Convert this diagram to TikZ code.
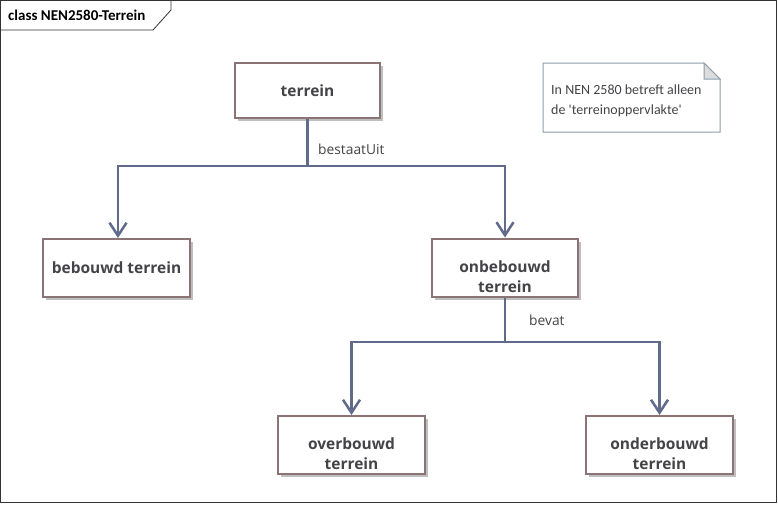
\documentclass[tikz,border=0pt]{standalone}
\usepackage{fontspec}
\setmainfont{Open Sans}
\newfontfamily\notefont{Carlito}
\usetikzlibrary{arrows.meta,shadows}
\definecolor{boxline}{RGB}{140,116,116}
\definecolor{conn}{RGB}{96,106,138}
\definecolor{txt}{RGB}{68,68,72}
\definecolor{noteline}{RGB}{140,158,172}
\definecolor{foldfill}{RGB}{220,220,220}
\tikzset{
  cls/.style={draw=boxline, line width=2pt, fill=white, minimum width=145pt, minimum height=55pt,
    font=\fontsize{15.5}{20}\selectfont\bfseries, text=txt, align=center, inner sep=2pt,
    drop shadow={shadow xshift=3pt, shadow yshift=-3pt, fill=black!25, opacity=1}},
  clstext/.style={font=\fontsize{15.5}{20}\selectfont\bfseries, text=txt, align=center, inner sep=0pt},
  conline/.style={draw=conn, line width=2.5pt},
  arr/.style={conline, -{Straight Barb[length=13pt,width=17pt,line width=2.5pt]}},
  lbl/.style={font=\fontsize{13.8}{16}\selectfont, text=txt, anchor=west, inner sep=0pt},
}
\begin{document}
\begin{tikzpicture}[x=1pt,y=-1pt]
\useasboundingbox (0,0) rectangle (778,504);
\fill[white] (0,0) rectangle (778,504);
\draw[black!80, line width=0.8pt] (0.5,0.5) rectangle (776.5,502.5);
\draw[black!80, line width=0.8pt] (0.5,30) -- (153,30) -- (171,10) -- (171,0.5);
\node[font=\notefont\fontsize{15}{17}\selectfont\bfseries, anchor=west, inner sep=0pt, text=black] (title) at (8,15) {class NEN2580-Terrein};

% note
\draw[noteline, line width=1pt, fill=white] (543,63) -- (704,63) -- (720,79) -- (720,132) -- (543,132) -- cycle;
\draw[noteline, line width=1pt, fill=foldfill] (704,63) -- (704,79) -- (720,79) -- cycle;
\node[font=\notefont\fontsize{14}{19.5}\selectfont, text=txt, align=left, anchor=north west, inner sep=0pt] (note) at (551,85) {In NEN 2580 betreft alleen\\de 'terreinoppervlakte'};

\node[cls] (terrein) at (307.5,90.5) {terrein};
\node[cls, minimum width=147pt, minimum height=58pt] (beb) at (116.5,267.5) {bebouwd terrein};
\node[cls, minimum width=146pt, minimum height=58pt] (onb) at (505,267.5) {};
\node[clstext] (onbt) at (505,277) {onbebouwd\\terrein};
\node[cls, minimum width=147pt, minimum height=58pt] (over) at (351.5,445) {};
\node[clstext] (overt) at (351.5,454) {overbouwd\\terrein};
\node[cls, minimum width=147pt, minimum height=58pt] (onder) at (659.5,445) {};
\node[clstext] (ondert) at (659.5,454) {onderbouwd\\terrein};

\coordinate (j1) at (307.5,166);
\coordinate (j1l) at (118,166);
\coordinate (j1r) at (505,166);
\draw[conline] (terrein.south) -- (j1);
\draw[arr] (j1) -- (j1l) -- (118,238);
\draw[arr] (j1) -- (j1r) -- (onb.north);
\node[lbl] (l1) at (318,149) {bestaatUit};

\coordinate (j2) at (505,342);
\coordinate (j2l) at (351.5,342);
\coordinate (j2r) at (659.5,342);
\draw[conline] (onb.south) -- (j2);
\draw[arr] (j2) -- (j2l) -- (over.north);
\draw[arr] (j2) -- (j2r) -- (onder.north);
\node[lbl] (l2) at (529,320) {bevat};
\end{tikzpicture}
\end{document}
